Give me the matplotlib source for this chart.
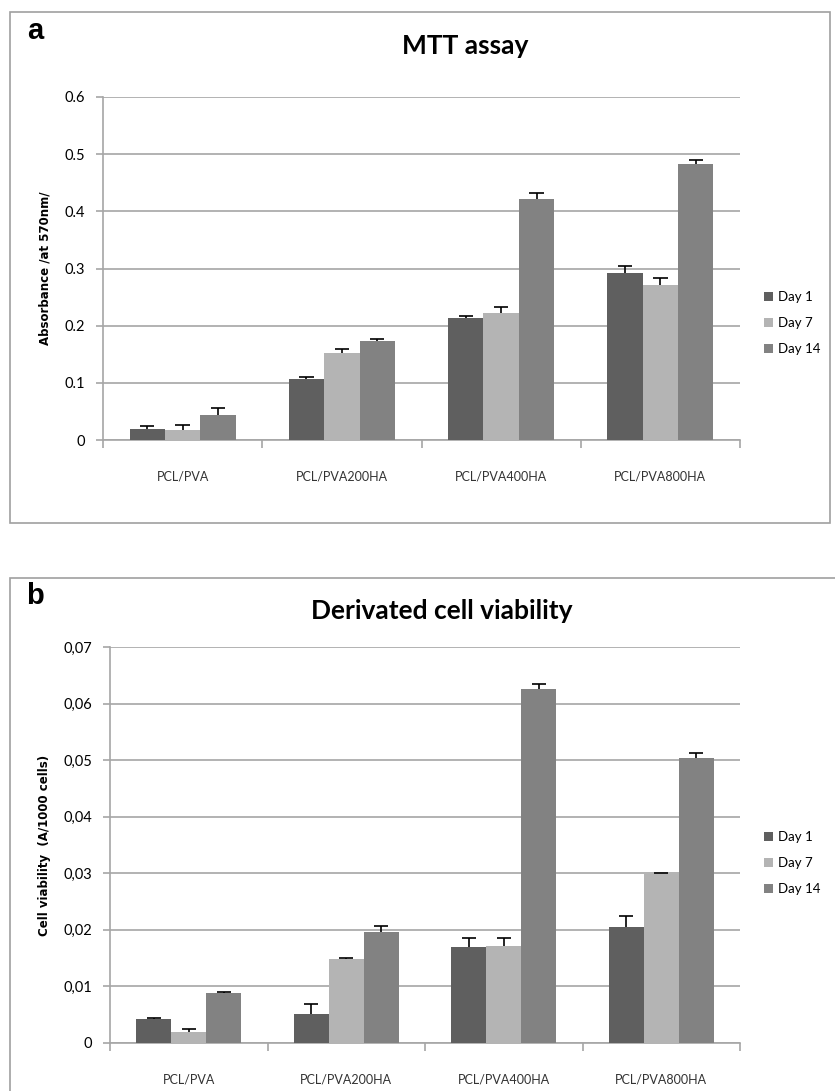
import numpy as np
import matplotlib.pyplot as plt
from matplotlib.patches import Rectangle

plt.rcParams['font.family'] = ['Lato', 'DejaVu Sans']

# data
groups = ['PCL/PVA', 'PCL/PVA200HA', 'PCL/PVA400HA', 'PCL/PVA800HA']
days = ['Day 1', 'Day 7', 'Day 14']
colors = ['#5f5f5f', '#b4b4b4', '#828282']

mtt_day1 = [0.020, 0.107, 0.213, 0.292]
mtt_day7 = [0.018, 0.153, 0.222, 0.272]
mtt_day14 = [0.043, 0.173, 0.421, 0.483]
mtt_err1 = [0.004, 0.004, 0.004, 0.013]
mtt_err7 = [0.009, 0.006, 0.011, 0.011]
mtt_err14 = [0.013, 0.004, 0.011, 0.006]

via_day1 = [0.0042, 0.0051, 0.0170, 0.0205]
via_day7 = [0.0019, 0.0148, 0.0172, 0.0300]
via_day14 = [0.0089, 0.0196, 0.0625, 0.0503]
via_err1 = [0.0002, 0.0018, 0.0016, 0.0020]
via_err7 = [0.0005, 0.0002, 0.0014, 0.0001]
via_err14 = [0.0002, 0.0011, 0.0009, 0.0009]

mtt_ticks = [0, 0.1, 0.2, 0.3, 0.4, 0.5, 0.6]
mtt_ticklabels = ['0', '0.1', '0.2', '0.3', '0.4', '0.5', '0.6']
via_ticks = [0, 0.01, 0.02, 0.03, 0.04, 0.05, 0.06, 0.07]
via_ticklabels = ['0', '0,01', '0,02', '0,03', '0,04', '0,05', '0,06', '0,07']

fig = plt.figure(figsize=(8.35, 10.91), dpi=100)

# panel frames
fig.patches.append(Rectangle((10/835, 1-523/1091), 820/835, 511/1091, transform=fig.transFigure,
                             fill=False, edgecolor='#a0a0a0', lw=1.2))
fig.patches.append(Rectangle((10/835, -0.01), 0.99, 1-578/1091+0.01, transform=fig.transFigure,
                             fill=False, edgecolor='#a0a0a0', lw=1.2))

narrow = ['Liberation Sans Narrow', 'Lato', 'DejaVu Sans']


def panel(ax, vals, errs, ticks, ticklabels, ylabel, title, tx, letter, lx, ly, legend_y):
    x = np.arange(len(groups))
    w = 1 / 4.5
    for i, (v, e) in enumerate(zip(vals, errs)):
        xs = x + (i - 1) * w
        ax.bar(xs, v, width=w, color=colors[i], label=days[i], zorder=3)
        top = np.array(v) + np.array(e)
        ax.vlines(xs, v, top, color='black', lw=1.2, zorder=4)
        ax.hlines(top, xs - 0.045, xs + 0.045, color='black', lw=1.2, zorder=4)
    ax.set_xlim(-0.5, len(groups) - 0.5)
    ax.set_ylim(ticks[0], ticks[-1])
    ax.set_yticks(ticks)
    ax.set_yticklabels(ticklabels, fontsize=10.5, family=narrow)
    ax.yaxis.grid(True, color='#a6a6a6', lw=1.2, zorder=0)
    ax.set_xticks(np.arange(len(groups) + 1) - 0.5)
    ax.set_xticklabels([])
    ax.set_xticks(x, minor=True)
    ax.set_xticklabels(groups, minor=True, fontsize=9, color='#333333', family=narrow)
    ax.tick_params(axis='x', which='minor', length=0, pad=22)
    ax.tick_params(axis='x', which='major', length=6, color='#a6a6a6', width=1.2)
    ax.tick_params(axis='y', length=5, color='#a6a6a6', width=1.2, pad=8)
    for s in ['top', 'right']:
        ax.spines[s].set_visible(False)
    for s in ['left', 'bottom']:
        ax.spines[s].set_color('#a6a6a6')
        ax.spines[s].set_linewidth(1.2)
    ax.set_ylabel(ylabel, fontsize=8.5, fontweight='bold', labelpad=9,
                  family=['DejaVu Sans'])
    ax.set_axisbelow(True)
    fig.text(tx, ly, title, fontsize=19, fontweight='bold', ha='center', va='center')
    fig.text(lx, ly + 0.014, letter, fontsize=21, fontweight='bold', ha='center', va='center',
             family=['Liberation Sans', 'DejaVu Sans'])
    ax.legend(loc='center left', bbox_to_anchor=(752/835, legend_y), bbox_transform=fig.transFigure,
              frameon=False, handlelength=0.7, handleheight=0.7, handletextpad=0.4,
              labelspacing=1.05, prop=dict(size=9.5, family=narrow))


ax1 = fig.add_axes([103/835, 1-440/1091, 637/835, 343/1091])
panel(ax1, [mtt_day1, mtt_day7, mtt_day14], [mtt_err1, mtt_err7, mtt_err14],
      mtt_ticks, mtt_ticklabels, 'Absorbance /at 570nm/', 'MTT assay', 465/835, 'a',
      35/835, 1-46/1091, 1-323/1091)

ax2 = fig.add_axes([110/835, 1-1043/1091, 630/835, 396/1091])
panel(ax2, [via_day1, via_day7, via_day14], [via_err1, via_err7, via_err14],
      via_ticks, via_ticklabels, 'Cell viability  (A/1000 cells)', 'Derivated cell viability',
      442/835, 'b', 35/835, 1-611/1091, 1-863/1091)

fig.savefig('out.png', dpi=100)
plt.close()
